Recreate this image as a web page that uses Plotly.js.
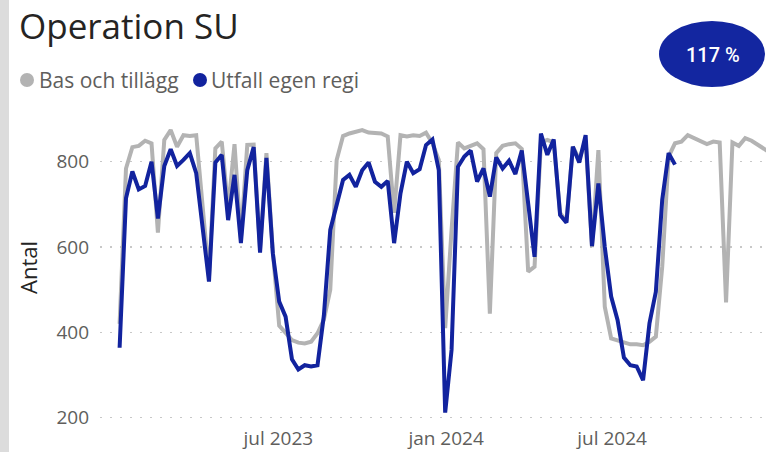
<!DOCTYPE html>
<html>
<head>
<meta charset="utf-8">
<script src="https://cdn.plot.ly/plotly-3.0.1.min.js"></script>
<style>html,body{margin:0;padding:0;overflow:hidden;background:#fff;}#chart{width:766px;height:452px;}</style>
</head>
<body>
<div id="chart"></div>
<script>
// Weekly dates
const weeks = [
 '2023-01-08','2023-01-15','2023-01-22','2023-01-29','2023-02-05','2023-02-12','2023-02-19','2023-02-26',
 '2023-03-05','2023-03-12','2023-03-19','2023-03-26','2023-04-02','2023-04-09','2023-04-16','2023-04-23','2023-04-30',
 '2023-05-07','2023-05-14','2023-05-21','2023-05-28','2023-06-04','2023-06-11','2023-06-18','2023-06-25',
 '2023-07-02','2023-07-09','2023-07-16','2023-07-23','2023-07-30','2023-08-06','2023-08-13','2023-08-20','2023-08-27',
 '2023-09-03','2023-09-10','2023-09-17','2023-09-24','2023-10-01','2023-10-08','2023-10-15','2023-10-22','2023-10-29',
 '2023-11-05','2023-11-12','2023-11-19','2023-11-26','2023-12-03','2023-12-10','2023-12-17','2023-12-24','2023-12-31',
 '2024-01-07','2024-01-14','2024-01-21','2024-01-28','2024-02-04','2024-02-11','2024-02-18','2024-02-25',
 '2024-03-03','2024-03-10','2024-03-17','2024-03-24','2024-03-31','2024-04-07','2024-04-14','2024-04-21','2024-04-28',
 '2024-05-05','2024-05-12','2024-05-19','2024-05-26','2024-06-02','2024-06-09','2024-06-16','2024-06-23','2024-06-30',
 '2024-07-07','2024-07-14','2024-07-21','2024-07-28','2024-08-04','2024-08-11','2024-08-18','2024-08-25',
 '2024-09-01','2024-09-08','2024-09-15','2024-09-22','2024-09-29','2024-10-06','2024-10-13','2024-10-20','2024-10-27',
 '2024-11-03','2024-11-10','2024-11-17','2024-11-24','2024-12-01','2024-12-08','2024-12-15','2024-12-22'
];
// Series: Bas och tillägg (gray)
const basOchTillagg = [
 420,784,834,837,849,843,634,851,874,835,
 862,860,862,700,530,831,847,690,841,620,
 839,840,595,820,590,416,398,382,376,374,
 378,398,430,500,804,860,866,870,874,868,
 866,866,859,680,862,859,862,860,868,843,
 804,410,640,845,831,837,843,829,444,820,
 837,841,843,830,542,554,845,851,845,680,
 660,835,805,850,600,827,460,386,382,377,
 372,372,370,378,390,554,812,843,847,862,
 855,847,841,847,845,470,845,837,855,849,
 839,829,820
];
// Series: Utfall egen regi (blue)
const utfallEgenRegi = [
 364,714,777,735,743,800,667,790,829,790,
 804,820,773,650,519,798,816,663,769,609,
 780,834,587,809,585,472,437,337,313,323,
 320,323,440,640,698,757,769,741,780,798,
 753,741,755,609,726,800,773,782,839,852,
 780,212,359,788,812,826,753,784,718,810,
 784,802,771,826,702,577,866,816,852,675,
 657,835,798,862,602,749,600,484,429,341,
 323,320,288,421,495,711,820,793
];
const seriesNames = ['Bas och tillägg', 'Utfall egen regi'];
const xTickVals = ['2023-07-01', '2024-01-01', '2024-07-01'];
const xTickText = ['jul 2023', 'jan 2024', 'jul 2024'];
const yTickVals = [200, 400, 600, 800];
const kpiText = '117 %';

const GRAY = '#b3b3b3';
const BLUE = '#12239e';
const L = 100, W = 666, T = 110, H = 315; // plot area px
const px = v => (v - L) / W;
const py = v => (T + H - v) / H;

const traces = [
  {x: weeks.slice(0, basOchTillagg.length), y: basOchTillagg, type: 'scatter', mode: 'lines',
   name: seriesNames[0], line: {color: GRAY, width: 4, shape: 'linear'}, showlegend: false},
  {x: weeks.slice(0, utfallEgenRegi.length), y: utfallEgenRegi, type: 'scatter', mode: 'lines',
   name: seriesNames[1], line: {color: BLUE, width: 4, shape: 'linear'}, showlegend: false}
];

const FONT = '"Segoe UI", "Open Sans", sans-serif';
const layout = {
  width: 766, height: 452,
  margin: {l: L, r: 766 - L - W, t: T, b: 452 - T - H, pad: 0},
  paper_bgcolor: '#ffffff', plot_bgcolor: '#ffffff',
  showlegend: false,
  font: {family: FONT, color: '#605e5c'},
  title: {text: 'Operation SU', xref: 'container', yref: 'container', x: 19/766, xanchor: 'left',
          y: 1 - 27/452, yanchor: 'middle', font: {size: 35, color: '#252423', family: FONT}},
  xaxis: {type: 'date', range: ['2022-12-17 12:00', '2024-12-16 19:00'],
          tickmode: 'array', tickvals: xTickVals, ticktext: xTickText,
          showgrid: false, zeroline: false, showline: false, ticks: '',
          tickfont: {size: 19, color: '#605e5c'}},
  yaxis: {range: [183, 921], tickmode: 'array', tickvals: yTickVals,
          showgrid: true, gridcolor: '#c8c8c8', gridwidth: 1.5, griddash: '2px,8px',
          zeroline: false, showline: false, ticks: '', ticklabelstandoff: 10,
          tickfont: {size: 19, color: '#605e5c'},
          title: {text: 'Antal', standoff: 12, font: {size: 22, color: '#252423'}}},
  shapes: [
    {type: 'rect', xref: 'paper', yref: 'paper', x0: px(0), x1: px(9), y0: py(460), y1: py(-10),
     fillcolor: '#dcdcdc', line: {width: 0}, layer: 'below'},
    {type: 'circle', xref: 'paper', yref: 'paper', x0: px(659), x1: px(765), y0: py(87), y1: py(21),
     fillcolor: '#1326a0', line: {width: 0}},
    {type: 'circle', xref: 'paper', yref: 'paper', xsizemode: 'pixel', ysizemode: 'pixel',
     xanchor: px(27), yanchor: py(80), x0: -7, x1: 7, y0: -7, y1: 7, fillcolor: GRAY, line: {width: 0}},
    {type: 'circle', xref: 'paper', yref: 'paper', xsizemode: 'pixel', ysizemode: 'pixel',
     xanchor: px(200), yanchor: py(80), x0: -7, x1: 7, y0: -7, y1: 7, fillcolor: BLUE, line: {width: 0}}
  ],
  annotations: [
    {text: seriesNames[0], xref: 'paper', yref: 'paper', x: px(37), y: py(80), xanchor: 'left', yanchor: 'middle',
     showarrow: false, font: {size: 21, color: '#605e5c', family: FONT}},
    {text: seriesNames[1], xref: 'paper', yref: 'paper', x: px(209), y: py(80), xanchor: 'left', yanchor: 'middle',
     showarrow: false, font: {size: 21, color: '#605e5c', family: FONT}},
    {text: kpiText, xref: 'paper', yref: 'paper', x: px(713), y: py(55), xanchor: 'center', yanchor: 'middle',
     showarrow: false, font: {size: 20, color: '#ffffff', family: 'Roboto, sans-serif', weight: 500}}
  ]
};
Plotly.newPlot('chart', traces, layout, {displayModeBar: false, staticPlot: true});
</script>
</body>
</html>
